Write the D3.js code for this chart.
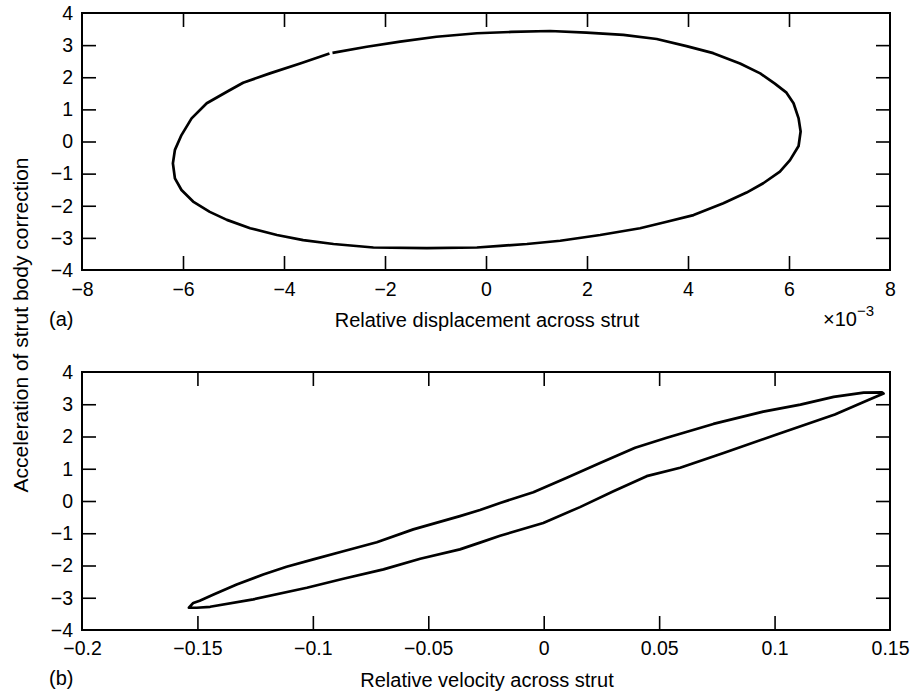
<!DOCTYPE html>
<html><head><meta charset="utf-8">
<script src="https://cdn.jsdelivr.net/npm/d3@7"></script>
<style>
body{margin:0;background:#fff}
svg text{font-family:"Liberation Sans",Arial,Helvetica,sans-serif;fill:#000}
</style>
</head><body>
<svg id="chart" width="916" height="698"></svg>
<script>
// ---------- data ----------
// Panel (a): relative displacement (x1e-3) vs acceleration
const dispX = [-3.04,-2.36,-1.70,-0.98,-0.18,0.50,1.27,1.99,2.72,3.38,3.97,4.50,5.03,5.43,5.72,5.95,6.09,6.19,6.23,6.19,6.02,5.82,5.49,5.16,4.70,4.11,3.58,3.05,2.26,1.47,0.81,0.28,-0.18,-1.17,-2.23,-3.02,-3.62,-4.14,-4.67,-5.13,-5.47,-5.80,-6.03,-6.16,-6.20,-6.16,-6.03,-5.83,-5.53,-5.13,-4.81,-4.28,-3.68,-3.10];
const dispY = [2.76,2.95,3.11,3.26,3.37,3.41,3.44,3.39,3.32,3.19,2.97,2.75,2.43,2.12,1.80,1.52,1.19,0.72,0.31,-0.14,-0.58,-0.94,-1.30,-1.59,-1.92,-2.29,-2.50,-2.70,-2.91,-3.09,-3.19,-3.25,-3.30,-3.32,-3.30,-3.19,-3.07,-2.91,-2.70,-2.44,-2.19,-1.87,-1.51,-1.15,-0.68,-0.26,0.20,0.72,1.19,1.55,1.83,2.12,2.43,2.74];

// Panel (b): relative velocity vs acceleration
const velX = [-0.1537,-0.1518,-0.1490,-0.1430,-0.1330,-0.1215,-0.1114,-0.0998,-0.0868,-0.0723,-0.0565,-0.0363,-0.0276,-0.0189,-0.0045,0.0100,0.0244,0.0396,0.0533,0.0735,0.0951,0.1112,0.1256,0.1386,0.1465,0.1472,0.1406,0.1261,0.1009,0.0779,0.0591,0.0446,0.0302,0.0157,-0.0002,-0.0189,-0.0276,-0.0363,-0.0535,-0.0694,-0.0868,-0.1026,-0.1258,-0.1445,-0.1503];
const velY = [-3.31,-3.16,-3.09,-2.90,-2.59,-2.28,-2.04,-1.81,-1.56,-1.28,-0.88,-0.47,-0.28,-0.06,0.27,0.72,1.18,1.65,1.96,2.39,2.77,2.99,3.23,3.36,3.37,3.33,3.13,2.68,2.06,1.49,1.03,0.77,0.30,-0.19,-0.68,-1.08,-1.29,-1.50,-1.79,-2.12,-2.41,-2.69,-3.05,-3.28,-3.31];

const xTicksA = [-8,-6,-4,-2,0,2,4,6,8];
const xTicksB = [-0.2,-0.15,-0.1,-0.05,0,0.05,0.1,0.15];
const yTicks = [-4,-3,-2,-1,0,1,2,3,4];

const xLabelA = "Relative displacement across strut";
const xLabelB = "Relative velocity across strut";
const yLabel = "Acceleration of strut body correction";
const panelA = "(a)", panelB = "(b)";

// ---------- drawing ----------
const svg = d3.select("#chart");
const fmt = v => String(v).replace("-", "\u2212");
const L = 82, R = 890;
const TICKFONT = 19.5, LABELFONT = 20;

function panel(top, bottom, xDomain, xTicks, xs, ys, closed, tickPad) {
  const x = d3.scaleLinear().domain(xDomain).range([L, R]);
  const y = d3.scaleLinear().domain([-4, 4]).range([bottom, top]);
  const g = svg.append("g");
  const inner = xTicks.slice(1, -1);
  const innerY = yTicks.slice(1, -1);

  const ab = g.append("g").attr("transform", `translate(0,${bottom})`)
    .call(d3.axisBottom(x).tickValues(xTicks).tickFormat(fmt).tickSizeInner(-14).tickSizeOuter(0).tickPadding(tickPad));
  const at = g.append("g").attr("transform", `translate(0,${top})`)
    .call(d3.axisTop(x).tickValues(inner).tickFormat("").tickSizeInner(-14).tickSizeOuter(0));
  const al = g.append("g").attr("transform", `translate(${L},0)`)
    .call(d3.axisLeft(y).tickValues(yTicks).tickFormat(fmt).tickSizeInner(-14).tickSizeOuter(0).tickPadding(9));
  const ar = g.append("g").attr("transform", `translate(${R},0)`)
    .call(d3.axisRight(y).tickValues(innerY).tickFormat("").tickSizeInner(-14).tickSizeOuter(0));

  [ab, at, al, ar].forEach(a => {
    a.select(".domain").remove();
    a.selectAll(".tick line").attr("stroke", "#000").attr("stroke-width", 1.6);
    a.selectAll(".tick text").attr("font-size", TICKFONT).attr("font-family", '"Liberation Sans",Arial,sans-serif').attr("fill", "#000");
  });
  ab.selectAll(".tick").filter(d => d === xTicks[0] || d === xTicks[xTicks.length - 1]).select("line").remove();
  al.selectAll(".tick").filter(d => d === -4 || d === 4).select("line").remove();

  g.append("rect").attr("x", L).attr("y", top).attr("width", R - L).attr("height", bottom - top)
    .attr("fill", "none").attr("stroke", "#000").attr("stroke-width", 2);

  const pts = xs.map((v, i) => [v, ys[i]]);
  const line = d3.line().x(d => x(d[0])).y(d => y(d[1]));
  g.append("path").attr("d", line(pts) + (closed ? "Z" : ""))
    .attr("fill", "none").attr("stroke", "#000").attr("stroke-width", 2.7)
    .attr("stroke-linejoin", "round");
  return { x, y };
}

panel(13, 270, [-8, 8], xTicksA, dispX, dispY, false, 12);
panel(372, 630, [-0.2, 0.15], xTicksB, velX, velY, true, 11);

svg.append("text").attr("x", 487).attr("y", 327).attr("text-anchor", "middle").attr("font-size", LABELFONT).text(xLabelA);
svg.append("text").attr("x", 487).attr("y", 687).attr("text-anchor", "middle").attr("font-size", LABELFONT).text(xLabelB);
svg.append("text").attr("x", 49).attr("y", 326).attr("font-size", LABELFONT).text(panelA);
svg.append("text").attr("x", 49).attr("y", 685).attr("font-size", LABELFONT).text(panelB);
const ex = svg.append("text").attr("x", 823).attr("y", 326).attr("font-size", LABELFONT);
ex.append("tspan").text("\u00d710");
ex.append("tspan").attr("dy", -10).attr("font-size", 15).text("\u22123");
svg.append("text").attr("transform", "translate(28,325) rotate(-90)")
  .attr("text-anchor", "middle").attr("font-size", 21).text(yLabel);
</script>
</body></html>
